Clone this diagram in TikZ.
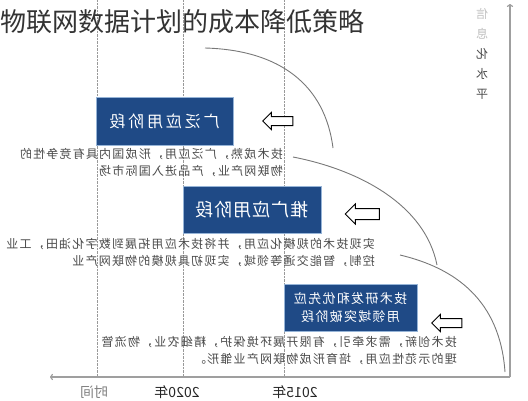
\documentclass[tikz,border=0pt]{standalone}
\usepackage{fontspec}
\setmainfont{Noto Sans CJK SC}
\usetikzlibrary{arrows.meta,shapes.arrows}

\definecolor{stageblue}{RGB}{31,74,134}
\definecolor{stageedge}{RGB}{150,180,215}
\definecolor{notegray}{RGB}{75,75,75}
\definecolor{curvegray}{RGB}{120,120,120}

\begin{document}
\begin{tikzpicture}[
    x=1pt, y=-1pt,
    mirrored/.style={xscale=-1},
    stage/.style={rectangle, mirrored, draw=stageedge, line width=0.6pt, fill=stageblue, text=white, align=center, inner sep=0pt},
    note/.style={mirrored, anchor=north west, align=left, inner sep=0pt, text=notegray, font=\fontsize{12}{17}\selectfont\addfontfeature{LetterSpace=10}},
    hollow/.style={single arrow, draw, line width=1pt, fill=white, shape border rotate=180, inner xsep=0pt, inner ysep=4pt, single arrow head extend=4pt, minimum height=30pt},
    yearlbl/.style={mirrored, inner sep=0pt, text=black!85, font=\fontsize{14}{14}\selectfont},
    timeline/.style={densely dotted, gray!80},
    axis/.style={gray!75, line width=1.2pt, -{To[length=3pt]}},
]
\useasboundingbox (0,0) rectangle (528,400);

% time marks
\foreach \x in {97,183,284}
  \draw[timeline] (\x,0) -- (\x,377);

\node[anchor=west, inner sep=0pt, text=black!80, font=\fontsize{26}{26}\selectfont] (title) at (0,22) {物联网数据计划的成本降低策略};

% axes
\coordinate (origin) at (510,377);
\coordinate (xend) at (50,377);
\coordinate (yend) at (510,4);
\draw[axis] (origin) -- (xend);
\draw[axis] (origin) -- (yend);

\node[mirrored, align=center, inner sep=0pt, text=black!70, font=\fontsize{12}{20}\selectfont] (ylbl) at (482,54)
  {{\color{gray!50}信}\\{\color{gray!50}息}\\化\\水\\平};

\node[yearlbl] (y2015) at (295,392) {2015年};
\node[yearlbl] (y2020) at (177,392) {2020年};
\node[yearlbl, text=gray] (tlbl) at (94,392) {时间};

% growth curves
\draw[curvegray, line width=0.9pt] (205,48) .. controls (280,50) and (325,85) .. (333,148);
\draw[curvegray, line width=0.9pt] (293,157) .. controls (360,170) and (425,205) .. (437,265);
\draw[curvegray, line width=0.9pt] (400,255) .. controls (455,268) and (500,300) .. (505,372);

% stages
\node[stage, minimum width=137pt, minimum height=48pt, font=\fontsize{16}{20}\selectfont\addfontfeature{LetterSpace=18}] (wide) at (164.5,121) {广泛应用阶段};
\node[stage, minimum width=138pt, minimum height=47pt, font=\fontsize{18}{22}\selectfont\addfontfeature{LetterSpace=5}] (promo) at (252,209.5) {推广应用阶段};
\node[stage, minimum width=133pt, minimum height=47pt, font=\fontsize{13}{18}\selectfont\addfontfeature{LetterSpace=10}] (rnd) at (350.5,307.5) {技术研发和优先应\\用领域突破阶段};

\node[hollow] (a1) at (280,121) {};
\node[hollow, minimum height=34pt, inner ysep=5pt, single arrow head extend=4.5pt] (a2) at (365,214) {};
\node[hollow] (a3) at (449,323) {};

\node[note] (n1) at (283,148) {技术成熟，广泛应用，形成国内具有竞争性的\\物联网产业，产品进入国际市场};
\node[note] (n2) at (375,238) {实现技术的规模化应用，并将技术应用拓展到数字化油田，工业\\控制，智能交通等领域，实现初具规模的物联网产业};
\node[note] (n3) at (457,336) {技术创新，需求牵引，有限开展环境保护，精细农业，物流管\\理的示范性应用，培育形成物联网产业雏形。};
\end{tikzpicture}
\end{document}
